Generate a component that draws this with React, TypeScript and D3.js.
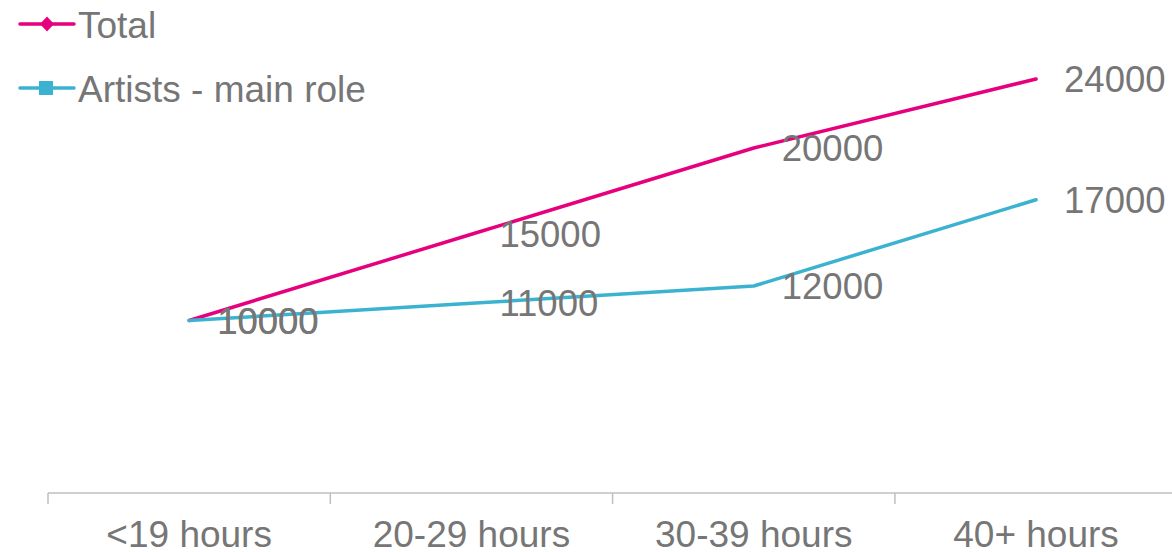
import React from "react";
import * as d3 from "d3";

const categories = ["<19 hours", "20-29 hours", "30-39 hours", "40+ hours"];
const totalValues = [10000, 15000, 20000, 24000];
const artistValues = [10000, 11000, 12000, 17000];
const seriesNames = ["Total", "Artists - main role"];

const W = 1172;
const H = 552;
const PINK = "#E6007E";
const CYAN = "#3BB3D0";
const TEXT = "#767676";
const AXIS = "#BFBFBF";
const FONT = "'Liberation Sans', Arial, sans-serif";

export default function App() {
  const x = d3.scaleBand<string>().domain(categories).range([48, 48 + 4 * 282.3]).paddingInner(0).paddingOuter(0);
  const y = d3.scaleLinear().domain([0, 28000]).range([493, 10]);
  const cx = (c: string) => (x(c) as number) + x.bandwidth() / 2;

  const line = d3
    .line<number>()
    .x((_, i) => cx(categories[i]))
    .y((d) => y(d));

  const series = [
    { name: seriesNames[0], values: totalValues, color: PINK, marker: "diamond" },
    { name: seriesNames[1], values: artistValues, color: CYAN, marker: "square" },
  ];

  const boundaries = categories.map((c) => x(c) as number);

  return (
    <svg
      width={W}
      height={H}
      style={{ position: "absolute", left: 0, top: 0, background: "#fff" }}
      fontFamily={FONT}
    >
      {/* category axis */}
      <line x1={x.range()[0]} x2={x.range()[1]} y1={y(0)} y2={y(0)} stroke={AXIS} strokeWidth={1.5} />
      {boundaries.map((b, i) => (
        <line key={i} x1={b} x2={b} y1={y(0)} y2={y(0) + 11} stroke={AXIS} strokeWidth={1.5} />
      ))}
      {categories.map((c) => (
        <text key={c} x={cx(c)} y={547} textAnchor="middle" fontSize={37} fill={TEXT}>
          {c}
        </text>
      ))}

      {/* series lines */}
      {series.map((s) => (
        <path
          key={s.name}
          d={line(s.values) || ""}
          fill="none"
          stroke={s.color}
          strokeWidth={3.5}
          strokeLinejoin="round"
          strokeLinecap="round"
        />
      ))}

      {/* data labels */}
      {series.map((s) =>
        s.values.map((v, i) => (
          <text
            key={s.name + i}
            x={cx(categories[i]) + 28}
            y={y(v) + 13}
            fontSize={36.5}
            fill={TEXT}
          >
            {v}
          </text>
        ))
      )}

      {/* legend */}
      {series.map((s, i) => {
        const ly = 24 + i * 64;
        return (
          <g key={s.name}>
            <line x1={20} x2={74} y1={ly} y2={ly} stroke={s.color} strokeWidth={3.5} strokeLinecap="round" />
            {s.marker === "diamond" ? (
              <path d={`M47,${ly - 7.5} L54,${ly} L47,${ly + 7.5} L40,${ly} Z`} fill={s.color} />
            ) : (
              <rect x={39} y={ly - 7} width={14} height={14} fill={s.color} />
            )}
            <text x={78} y={ly + 14} fontSize={37} fill={TEXT}>
              {s.name}
            </text>
          </g>
        );
      })}
    </svg>
  );
}
